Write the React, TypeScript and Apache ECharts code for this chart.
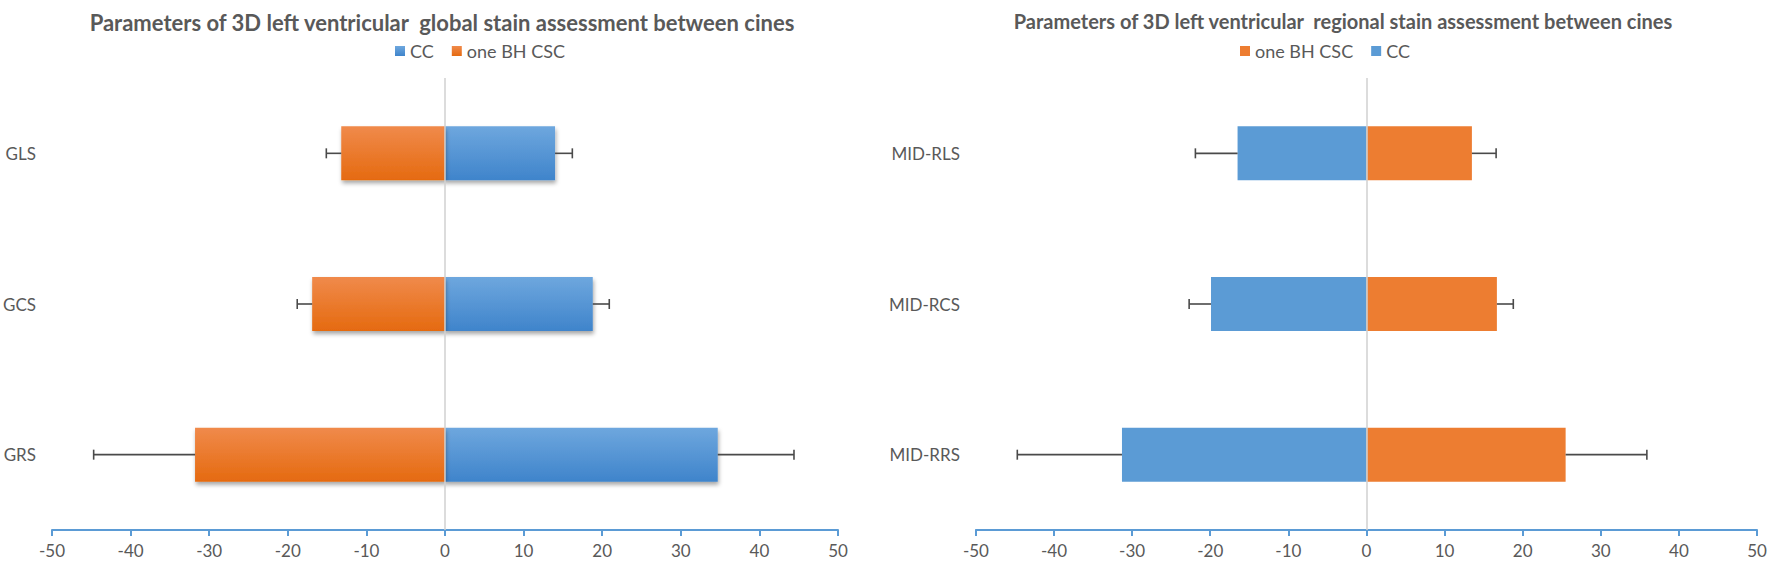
import React, { useEffect, useRef } from "react";
import * as echarts from "echarts";

// ---------- data ----------
const globalCategories = ["GLS", "GCS", "GRS"];
const globalCCMean = [14.0, 18.8, 34.7];
const globalCCSD = [2.2, 2.1, 9.7];
const globalBHMean = [-13.2, -16.9, -31.8];
const globalBHSD = [1.9, 1.9, 12.9];

const regionalCategories = ["MID-RLS", "MID-RCS", "MID-RRS"];
const regionalBHMean = [13.5, 16.7, 25.5];
const regionalBHSD = [3.1, 2.1, 10.4];
const regionalCCMean = [-16.5, -19.9, -31.3];
const regionalCCSD = [5.4, 2.8, 13.4];

const xTicks = [-50, -40, -30, -20, -10, 0, 10, 20, 30, 40, 50];

const FONT = "Lato, 'Open Sans', sans-serif";
const GRAY = "#595959";
const AXIS_BLUE = "#5B9BD5";

const blueGrad = new echarts.graphic.LinearGradient(0, 0, 0, 1, [
  { offset: 0, color: "#6EA7DE" },
  { offset: 1, color: "#3F84CB" },
]);
const orangeGrad = new echarts.graphic.LinearGradient(0, 0, 0, 1, [
  { offset: 0, color: "#F08A4B" },
  { offset: 1, color: "#E56A10" },
]);

function errorSeries(name: string, means: number[], sds: number[]) {
  const data = means.map((m, i) => [m, i, m + (m < 0 ? -sds[i] : sds[i])]);
  return {
    type: "custom",
    name,
    z: 5,
    silent: true,
    encode: { x: [0, 2], y: 1 },
    data,
    renderItem: (params: any, api: any) => {
      const y = api.value(1);
      const p1 = api.coord([api.value(0), y]);
      const p2 = api.coord([api.value(2), y]);
      const st = { stroke: "#4a4a4a", lineWidth: 1.6 };
      return {
        type: "group",
        children: [
          { type: "line", shape: { x1: p1[0], y1: p1[1], x2: p2[0], y2: p2[1] }, style: st },
          { type: "line", shape: { x1: p2[0], y1: p2[1] - 5, x2: p2[0], y2: p2[1] + 5 }, style: st },
        ],
      };
    },
  };
}

function buildOption(cfg: {
  title: string;
  titleX: number;
  titleSize: number;
  legendX: number;
  categories: string[];
  firstName: string;
  firstMean: number[];
  firstSD: number[];
  firstColor: any;
  secondName: string;
  secondMean: number[];
  secondSD: number[];
  secondColor: any;
  gridLeft: number;
  gridRight: number;
  shadow: boolean;
}) {
  const shadowStyle = cfg.shadow
    ? { shadowColor: "rgba(0,0,0,0.35)", shadowBlur: 4, shadowOffsetX: 1, shadowOffsetY: 3 }
    : {};
  return {
    animation: false,
    textStyle: { fontFamily: FONT },
    title: {
      text: cfg.title,
      left: cfg.titleX,
      top: 6,
      textAlign: "center",
      textStyle: {
        fontFamily: FONT,
        fontSize: cfg.titleSize,
        fontWeight: "bold",
        color: GRAY,
      },
    },
    legend: {
      data: [cfg.firstName, cfg.secondName],
      left: cfg.legendX,
      top: 37,
      icon: "rect",
      itemWidth: 10,
      itemHeight: 10,
      itemGap: 18,
      textStyle: { fontFamily: FONT, fontSize: 18, color: GRAY },
    },
    grid: { left: cfg.gridLeft, right: cfg.gridRight, top: 78, bottom: 33, containLabel: false },
    xAxis: {
      type: "value",
      min: xTicks[0],
      max: xTicks[xTicks.length - 1],
      interval: 10,
      splitLine: { show: false },
      axisLine: { show: true, onZero: false, lineStyle: { color: AXIS_BLUE, width: 2 } },
      axisTick: { show: true, length: 6, lineStyle: { color: AXIS_BLUE, width: 2 } },
      axisLabel: { color: GRAY, fontSize: 17, fontFamily: FONT, margin: 12 },
    },
    yAxis: {
      type: "category",
      data: cfg.categories,
      inverse: true,
      axisLine: { show: false, onZero: false },
      axisTick: { show: false },
      axisLabel: { color: GRAY, fontSize: 17, fontFamily: FONT, margin: 16 },
    },
    series: [
      {
        type: "bar",
        name: cfg.firstName,
        data: cfg.firstMean,
        barWidth: 54,
        barGap: "-100%",
        itemStyle: { color: cfg.firstColor, ...shadowStyle },
        markLine: {
          silent: true,
          symbol: "none",
          label: { show: false },
          lineStyle: { color: "#D0D0D0", width: 1.5, type: "solid" },
          data: [{ xAxis: 0 }],
          z: 10,
        },
      },
      {
        type: "bar",
        name: cfg.secondName,
        data: cfg.secondMean,
        barWidth: 54,
        barGap: "-100%",
        itemStyle: { color: cfg.secondColor, ...shadowStyle },
      },
      errorSeries(cfg.firstName + "-err", cfg.firstMean, cfg.firstSD),
      errorSeries(cfg.secondName + "-err", cfg.secondMean, cfg.secondSD),
    ],
  };
}

export default function App() {
  const leftRef = useRef<HTMLDivElement>(null);
  const rightRef = useRef<HTMLDivElement>(null);

  useEffect(() => {
    document.body.style.margin = "0";
    const left = echarts.init(leftRef.current!, undefined, { renderer: "svg" });
    const right = echarts.init(rightRef.current!, undefined, { renderer: "svg" });
    left.setOption(
      buildOption({
        title: "Parameters of 3D left ventricular  global stain assessment between cines",
        titleX: 437,
        titleSize: 22,
        legendX: 390,
        categories: globalCategories,
        firstName: "CC",
        firstMean: globalCCMean,
        firstSD: globalCCSD,
        firstColor: blueGrad,
        secondName: "one BH CSC",
        secondMean: globalBHMean,
        secondSD: globalBHSD,
        secondColor: orangeGrad,
        gridLeft: 48,
        gridRight: 48,
        shadow: true,
      }) as any
    );
    right.setOption(
      buildOption({
        title: "Parameters of 3D left ventricular  regional stain assessment between cines",
        titleX: 452,
        titleSize: 20,
        legendX: 349,
        categories: regionalCategories,
        firstName: "one BH CSC",
        firstMean: regionalBHMean,
        firstSD: regionalBHSD,
        firstColor: "#ED7D31",
        secondName: "CC",
        secondMean: regionalCCMean,
        secondSD: regionalCCSD,
        secondColor: "#5B9BD5",
        gridLeft: 57,
        gridRight: 15,
        shadow: false,
      }) as any
    );
    return () => {
      left.dispose();
      right.dispose();
    };
  }, []);

  return (
    <div style={{ position: "fixed", left: 0, top: 0, width: 1772, height: 563, background: "#fff" }}>
      <div ref={leftRef} style={{ position: "absolute", left: 0, top: 0, width: 886, height: 563 }} />
      <div ref={rightRef} style={{ position: "absolute", left: 886, top: 0, width: 886, height: 563 }} />
    </div>
  );
}
